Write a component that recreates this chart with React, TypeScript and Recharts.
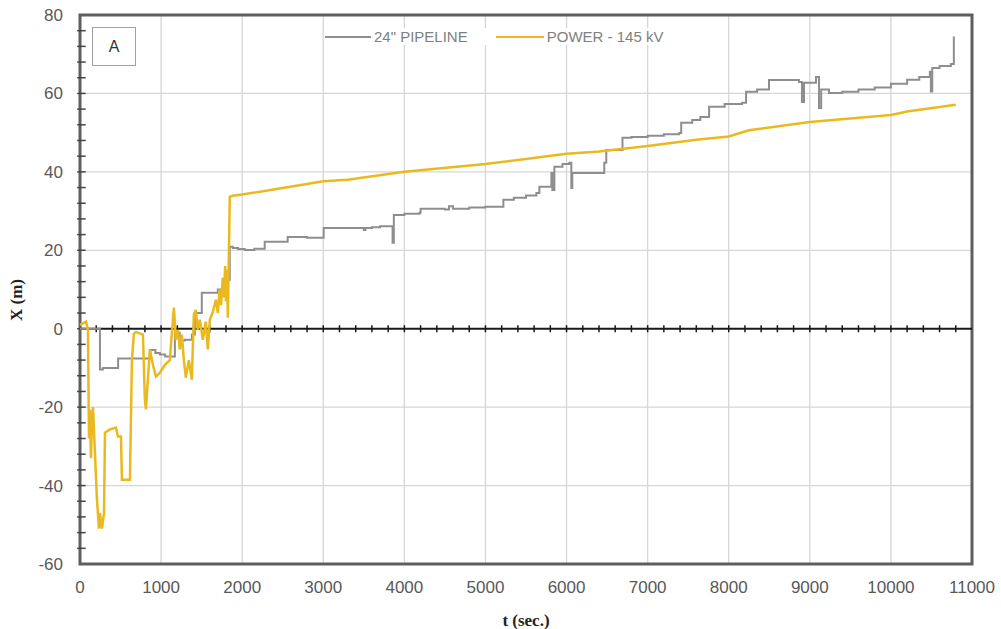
import {
  LineChart,
  Line,
  XAxis,
  YAxis,
  CartesianGrid,
  ReferenceLine,
  ReferenceArea,
} from 'recharts';

// 24" pipeline trace (t in seconds, X in metres) - stepped readings
const pipelineT = [
  0, 246, 283, 470, 862, 930, 985, 1050, 1170, 1230, 1293, 1380, 1416, 1502, 1700, 1760, 1820,
  1847, 1884, 1950, 2032, 2150, 2278, 2561, 2800, 3005, 3500, 3520, 3600, 3700, 3855, 3870, 4000,
  4187, 4200, 4500, 4550, 4600, 4800, 5000, 5221, 5350, 5500, 5628, 5665, 5813, 5825, 5850, 5950,
  6034, 6059, 6071, 6465, 6490, 6690, 6800, 7000, 7200, 7389, 7414, 7550, 7650, 7758, 7950, 8165,
  8214, 8350, 8497, 8866, 8903, 8928, 9076, 9113, 9140, 9236, 9400, 9600, 9800, 10000, 10200,
  10350, 10480, 10493, 10510, 10600, 10740, 10776,
];
const pipelineX = [
  0, -10.4, -10, -7.6, -5.4, -6.2, -6.6, -7.1, -1, -3, -2.8, -1.5, 4, 9.2, 10, 11, 12.5,
  20.9, 20.6, 20.3, 20.1, 20.4, 22.2, 23.4, 23.2, 25.7, 25.2, 25.7, 25.9, 26.1, 21.9, 29, 29.3,
  29.6, 30.6, 30.4, 31.2, 30.6, 30.9, 31.1, 32.9, 33.4, 34, 34.6, 36.2, 39.7, 35.4, 41.3, 42,
  42.3, 35.9, 39.7, 42.3, 45.6, 48.7, 48.9, 49.2, 49.6, 49.9, 52.5, 53.2, 54, 56.6, 57.3, 57.6,
  60.4, 61, 63.4, 62.9, 57.8, 62.7, 64.2, 56.3, 61, 60.1, 60.4, 61, 61.5, 62.5, 63.5,
  64.2, 65.5, 60.5, 66.5, 67, 67.5, 74.5,
];

// power cable 145 kV trace
const powerT = [
  0, 74, 98, 111, 123, 135, 148, 160, 185, 209, 234, 246, 271, 296, 308, 369, 443, 468, 505, 517,
  616, 640, 665, 690, 776, 800, 813, 837, 862, 899, 936, 985, 1047, 1108, 1133, 1158, 1182, 1207,
  1231, 1256, 1281, 1305, 1342, 1379, 1404, 1428, 1453, 1478, 1515, 1552, 1576, 1601, 1638, 1675,
  1700, 1720, 1740, 1760, 1775, 1790, 1800, 1812, 1823, 1847, 1884, 2000, 2500, 3000, 3300, 4000,
  5000, 6000, 6400, 7000, 7600, 8000, 8250, 9000, 10000, 10200, 10800,
];
const powerX = [
  1, 1.8, -0.2, -28, -20.6, -33, -23, -20, -32, -43.5, -51, -47, -51, -47, -26.5, -25.7, -25.2, -27.5, -27.5, -38.5,
  -38.5, -8, -1.3, -0.8, -1.5, -18, -20.6, -13, -5.3, -9.2, -12.2, -11.2, -9.2, -8, -1, 5.4, -2.8, -0.3,
  -5.3, -1.5, -8, -12.5, -8, -13, 3.6, 4.8, -0.3, 2.3, -2.8, 1.8, -5.3, 2.3, 4.3, 7.4,
  4, 10, 6, 13, 8, 16, 7, 15, 2.8, 33.6, 33.9, 34.2, 35.9, 37.6, 38.0, 40.0,
  42.0, 44.6, 45.2, 46.6, 48.2, 49.0, 50.6, 52.7, 54.5, 55.4, 57.1,
];

const xTicks = [0, 1000, 2000, 3000, 4000, 5000, 6000, 7000, 8000, 9000, 10000, 11000];
const yTicks = [-60, -40, -20, 0, 20, 40, 60, 80];

const minorXTicks = Array.from({ length: 54 }, (_, i) => (i + 1) * 200);
const minorYTicks = Array.from({ length: 34 }, (_, i) => -56 + i * 4);

const pipelineData = pipelineT.map((t, i) => ({ t, x: pipelineX[i] }));
const powerData = powerT.map((t, i) => ({ t, x: powerX[i] }));

const GRAY = '#8e8e8e';
const YELLOW = '#eab91f';
const sans = '"Liberation Sans", Arial, sans-serif';
const serif = '"Liberation Serif", "Times New Roman", serif';
const tickFont = { fill: '#595959', fontSize: 17, fontFamily: sans };

const YLabel = () => (
  <text
    x={22}
    y={300}
    transform="rotate(-90 22 300)"
    textAnchor="middle"
    fontFamily={serif}
    fontWeight="bold"
    fontSize={17}
    fill="#222"
  >
    X (m)
  </text>
);

export default function App() {
  return (
    <div style={{ position: 'absolute', left: 0, top: 0, width: 1001, height: 629, background: '#fff' }}>
      <LineChart width={1001} height={629} margin={{ top: 15, right: 29, bottom: 0, left: 0 }}>
        <CartesianGrid stroke="#d6d6d6" strokeWidth={1.3} />
        <XAxis
          dataKey="t"
          type="number"
          domain={[0, 11000]}
          ticks={xTicks}
          interval={0}
          height={65}
          axisLine={false}
          tickLine={false}
          tickSize={0}
          tickMargin={17}
          tick={tickFont}
          allowDuplicatedCategory={false}
          label={{
            value: 't (sec.)',
            position: 'insideBottom',
            offset: 3,
            style: { fontFamily: serif, fontWeight: 'bold', fontSize: 17, fill: '#222' },
          }}
        />
        <YAxis
          dataKey="x"
          type="number"
          domain={[-60, 80]}
          ticks={yTicks}
          interval={0}
          width={80}
          axisLine={false}
          tickLine={false}
          tickSize={0}
          tickMargin={17}
          tick={tickFont}
          label={<YLabel />}
        />
        <ReferenceLine y={0} stroke="#1a1a1a" strokeWidth={2} />
        {minorXTicks.map((t) => (
          <ReferenceLine
            key={`mx-${t}`}
            segment={[{ x: t, y: -0.9 }, { x: t, y: 0.9 }]}
            stroke="#1a1a1a"
            strokeWidth={1.5}
            ifOverflow="visible"
          />
        ))}
        {minorYTicks.map((v) => (
          <ReferenceLine
            key={`my-${v}`}
            segment={[{ x: -35, y: v }, { x: 70, y: v }]}
            stroke="#444"
            strokeWidth={1.5}
            ifOverflow="visible"
          />
        ))}
        <Line
          data={pipelineData}
          dataKey="x"
          name='24" PIPELINE'
          type="stepAfter"
          stroke={GRAY}
          strokeWidth={2}
          dot={false}
          isAnimationActive={false}
        />
        <Line
          data={powerData}
          dataKey="x"
          name="POWER - 145 kV"
          type="linear"
          stroke={YELLOW}
          strokeWidth={2.5}
          dot={false}
          isAnimationActive={false}
        />
        <ReferenceArea
          x1={0}
          x2={11000}
          y1={-60}
          y2={80}
          fill="none"
          fillOpacity={0}
          stroke="#5e5e5e"
          strokeWidth={3}
          strokeOpacity={1}
          ifOverflow="visible"
        />
      </LineChart>
      <div
        style={{
          position: 'absolute',
          left: 325,
          top: 28,
          display: 'flex',
          alignItems: 'center',
          fontFamily: sans,
          fontSize: 15,
          color: '#808080',
          background: '#fff',
        }}
      >
        <span style={{ width: 46, height: 2, background: GRAY, display: 'inline-block', marginRight: 3 }} />
        <span>24" PIPELINE</span>
        <span style={{ width: 48, height: 2, background: YELLOW, display: 'inline-block', marginLeft: 28, marginRight: 3 }} />
        <span>POWER - 145 kV</span>
      </div>
      <div
        style={{
          position: 'absolute',
          left: 92,
          top: 27,
          width: 42,
          height: 37,
          border: '1px solid #a0a0a0',
          background: '#fff',
          display: 'flex',
          alignItems: 'center',
          justifyContent: 'center',
          fontFamily: sans,
          fontSize: 16,
          color: '#333',
        }}
      >
        A
      </div>
    </div>
  );
}
